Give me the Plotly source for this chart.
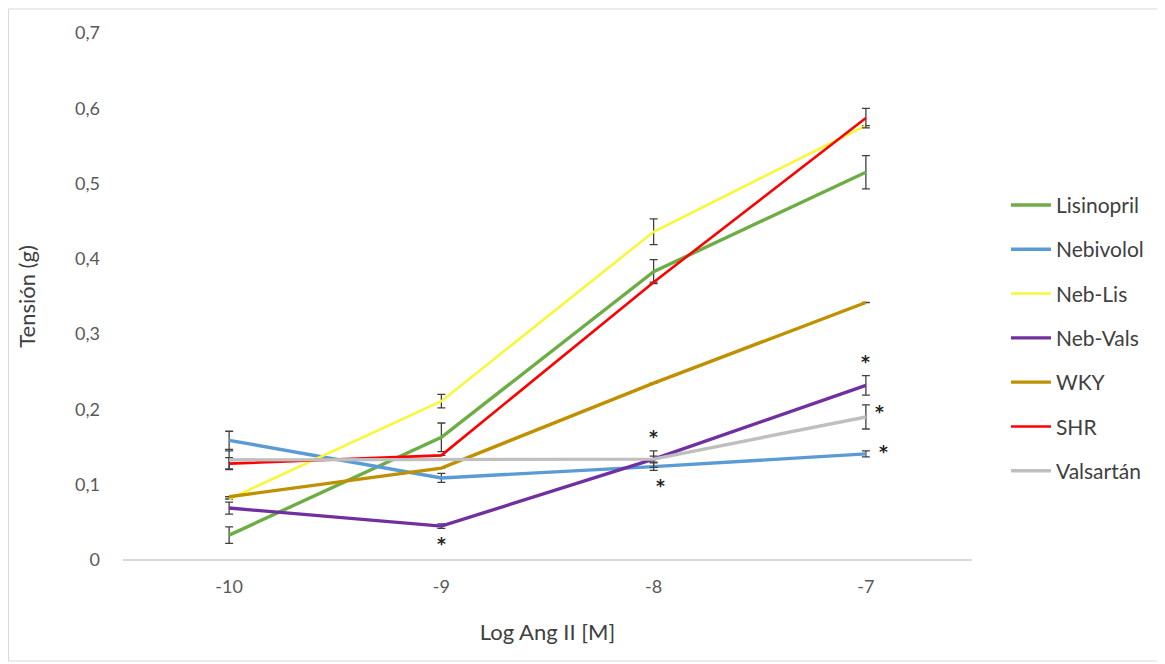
import plotly.graph_objects as go

categories = ["-10", "-9", "-8", "-7"]
series_names = ["Lisinopril", "Nebivolol", "Neb-Lis", "Neb-Vals", "WKY", "SHR", "Valsartán"]

lisinopril = [0.033, 0.163, 0.383, 0.515]
lisinopril_err = [0.011, 0.019, 0.016, 0.022]
nebivolol = [0.159, 0.109, 0.124, 0.141]
nebivolol_err = [0.012, 0.006, 0.005, 0.004]
neb_lis = [0.081, 0.211, 0.436, 0.577]
neb_lis_err = [0.0, 0.009, 0.017, 0.0]
neb_vals = [0.069, 0.045, 0.134, 0.232]
neb_vals_err = [0.008, 0.003, 0.004, 0.013]
wky = [0.084, 0.122, 0.235, 0.342]
wky_err = [0.0, 0.0, 0.0, 0.0]
shr = [0.128, 0.139, 0.369, 0.587]
shr_err = [0.008, 0.0, 0.0, 0.013]
valsartan = [0.133, 0.133, 0.134, 0.190]
valsartan_err = [0.012, 0.0, 0.011, 0.016]

y_tickvals = [0, 0.1, 0.2, 0.3, 0.4, 0.5, 0.6, 0.7]
y_ticktext = ["0", "0,1", "0,2", "0,3", "0,4", "0,5", "0,6", "0,7"]

colors = ["#6CAE45", "#5B9BD5", "#F7F73C", "#7030A0", "#BF9000", "#FF0000", "#BFBFBF"]
widths = [3.4, 3.4, 2.6, 3.4, 3.4, 2.6, 3.4]
values = [lisinopril, nebivolol, neb_lis, neb_vals, wky, shr, valsartan]
errors = [lisinopril_err, nebivolol_err, neb_lis_err, neb_vals_err, wky_err, shr_err, valsartan_err]

# significance asterisks: (series index, category index, side, xshift, yshift)
stars = [
    (3, 1, "below", 0, -16),
    (6, 2, "above", 0, 14),
    (1, 2, "below", 7, -16),
    (3, 3, "above", 0, 14),
    (6, 3, "right", 14, 5),
    (1, 3, "right", 18, 2),
]

FONT = "Lato, Open Sans, sans-serif"

fig = go.Figure()
for name, col, w, v, e in zip(series_names, colors, widths, values, errors):
    fig.add_trace(go.Scatter(
        x=categories, y=v, name=name, mode="lines",
        line=dict(color=col, width=w),
        legendgroup=name,
        error_y=dict(type="data", array=e, visible=True, color="#404040", thickness=1.3, width=4),
    ))

for si, ci, side, xs, ys in stars:
    v = values[si][ci]
    e = errors[si][ci]
    if side == "above":
        yv = v + e
    elif side == "below":
        yv = v - e
    else:
        yv = v
    fig.add_annotation(x=ci, y=yv, text="<b>*</b>", showarrow=False,
                       xshift=xs, yshift=ys, font=dict(size=17, color="#222222", family="DejaVu Sans"))

# page has an 8px body offset: figure is 1157x656 drawn at (8, 8)
L, T, PW, PH = 115, 25, 849, 527
W, H = 1157, 656

# outer light border
fig.add_shape(type="rect", xref="paper", yref="paper",
              x0=(0.5 - L) / PW, x1=(1153 - L) / PW,
              y0=(T + PH - 653) / PH, y1=(T + PH - 1) / PH,
              line=dict(color="#D9D9D9", width=1), fillcolor="rgba(0,0,0,0)", layer="below")

fig.update_layout(
    width=W, height=H,
    margin=dict(l=L, r=W - L - PW, t=T, b=H - T - PH, autoexpand=False),
    paper_bgcolor="white", plot_bgcolor="white",
    font=dict(family=FONT, color="#595959", size=18),
    showlegend=True,
    legend=dict(x=1.040, y=0.712, xanchor="left", yanchor="top",
                font=dict(size=21, color="#404040", family=FONT), tracegroupgap=14,
                bgcolor="rgba(0,0,0,0)", itemwidth=40),
    xaxis=dict(type="category", range=[-0.5, 3.5], showgrid=False, showline=False, zeroline=False,
               ticks="", tickfont=dict(size=18, color="#595959", family=FONT), automargin=False,
               ticklabelstandoff=14,
               title=dict(text="Log Ang II [M]", font=dict(size=22, color="#404040", family=FONT), standoff=28)),
    yaxis=dict(range=[0, 0.7], tickvals=y_tickvals, ticktext=y_ticktext, automargin=False,
               showgrid=False, zeroline=True, zerolinecolor="#D9D9D9", zerolinewidth=1.5,
               showline=False, ticks="", ticklabelstandoff=22,
               tickfont=dict(size=18, color="#595959", family=FONT),
               title=dict(text="Tensión (g)", font=dict(size=22, color="#404040", family=FONT), standoff=33)),
)

fig.write_html("out.html")
